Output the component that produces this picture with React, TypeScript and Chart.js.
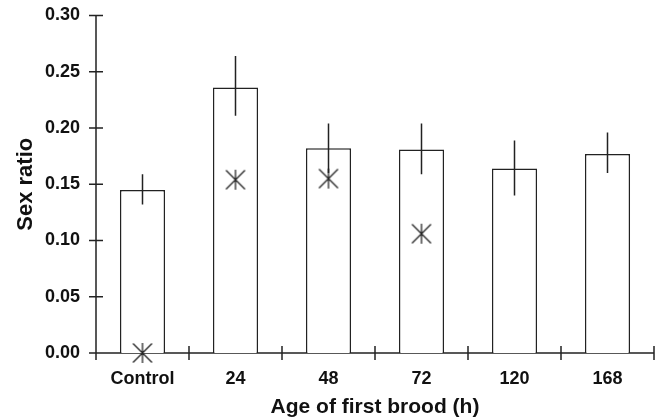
import React, { useEffect, useRef } from "react";
import { Chart, registerables } from "chart.js";

Chart.register(...registerables);

const categories = ["Control", "24", "48", "72", "120", "168"];
const meanRatio = [0.145, 0.236, 0.182, 0.181, 0.164, 0.177];
const errLow = [0.132, 0.211, 0.160, 0.159, 0.140, 0.160];
const errHigh = [0.159, 0.264, 0.204, 0.204, 0.189, 0.196];
const starValues: (number | null)[] = [0, 0.154, 0.155, 0.106, null, null];
const yTicks = [0, 0.05, 0.1, 0.15, 0.2, 0.25, 0.3];

const INK = "#222";
const FONT = "'Liberation Sans', Arial, Helvetica, sans-serif";

function makeStar(): HTMLCanvasElement {
  const c = document.createElement("canvas");
  const s = 22;
  c.width = s;
  c.height = s;
  const g = c.getContext("2d")!;
  g.strokeStyle = INK;
  g.lineWidth = 1.3;
  g.beginPath();
  g.moveTo(s / 2, 1);
  g.lineTo(s / 2, s - 1);
  g.moveTo(1.5, 1.5);
  g.lineTo(s - 1.5, s - 1.5);
  g.moveTo(s - 1.5, 1.5);
  g.lineTo(1.5, s - 1.5);
  g.stroke();
  return c;
}

const axesPlugin = {
  id: "customAxes",
  beforeDatasetsDraw(chart: any) {
    const { ctx, chartArea, scales } = chart;
    const x = scales.x;
    const y = scales.y;
    const t = 7;
    ctx.save();
    ctx.strokeStyle = INK;
    ctx.lineWidth = 1.5;
    ctx.beginPath();
    const y0 = y.getPixelForValue(0);
    const yTop = y.getPixelForValue(yTicks[yTicks.length - 1]);
    ctx.moveTo(chartArea.left, yTop);
    ctx.lineTo(chartArea.left, y0);
    ctx.moveTo(chartArea.left - t, y0);
    ctx.lineTo(chartArea.right, y0);
    yTicks.forEach((v) => {
      const py = y.getPixelForValue(v);
      ctx.moveTo(chartArea.left - t, py);
      ctx.lineTo(chartArea.left + t, py);
    });
    const n = categories.length;
    for (let i = 0; i <= n; i++) {
      let px: number;
      if (i === 0) px = chartArea.left;
      else if (i === n) px = chartArea.right;
      else px = (x.getPixelForValue(i - 1) + x.getPixelForValue(i)) / 2;
      ctx.moveTo(px, y0 - t);
      ctx.lineTo(px, y0 + t);
    }
    ctx.stroke();
    ctx.restore();
  },
  afterDatasetDraw(chart: any, args: any) {
    if (args.index !== 0) return;
    const { ctx, scales } = chart;
    const x = scales.x;
    const y = scales.y;
    ctx.save();
    ctx.strokeStyle = INK;
    ctx.lineWidth = 1.5;
    ctx.beginPath();
    categories.forEach((_, i) => {
      const px = x.getPixelForValue(i);
      ctx.moveTo(px, y.getPixelForValue(errLow[i]));
      ctx.lineTo(px, y.getPixelForValue(errHigh[i]));
    });
    ctx.stroke();
    ctx.restore();
  },
};

export default function App() {
  const ref = useRef<HTMLCanvasElement | null>(null);
  useEffect(() => {
    if (!ref.current) return;
    const star = makeStar();
    const chart = new Chart(ref.current, {
      type: "bar",
      data: {
        labels: categories,
        datasets: [
          {
            type: "bar",
            data: meanRatio,
            backgroundColor: "#ffffff",
            borderColor: INK,
            borderWidth: 1.5,
            barPercentage: 0.485,
            categoryPercentage: 1,
            order: 2,
          } as any,
          {
            type: "line",
            data: starValues,
            showLine: false,
            pointStyle: star,
            pointRadius: 10,
            pointHoverRadius: 10,
            clip: false,
            order: 1,
          } as any,
        ],
      },
      options: {
        responsive: false,
        animation: false,
        events: [],
        layout: { autoPadding: false, padding: { top: 15.5, right: 4, left: 0, bottom: 0 } },
        plugins: { legend: { display: false }, tooltip: { enabled: false } },
        scales: {
          x: {
            grid: { display: false },
            border: { display: false },
            ticks: {
              color: "#111",
              padding: 7,
              font: { family: FONT, size: 18, weight: "bold" },
            },
            title: {
              display: true,
              text: "Age of first brood (h)",
              color: "#111",
              padding: { top: 0, bottom: -1 },
              font: { family: FONT, size: 21, weight: "bold" },
            },
            afterFit(scale: any) {
              scale.height = 66;
              scale.paddingLeft = 0;
              scale.paddingRight = 0;
            },
          },
          y: {
            min: 0,
            max: 0.3,
            grid: { display: false },
            border: { display: false },
            ticks: {
              stepSize: 0.05,
              color: "#111",
              padding: 8,
              font: { family: FONT, size: 18, weight: "bold" },
              callback: (v: any) => Number(v).toFixed(2),
            },
            title: {
              display: true,
              text: "Sex ratio",
              color: "#111",
              padding: { top: 13, bottom: 0 },
              font: { family: FONT, size: 22, weight: "bold" },
            },
            afterFit(scale: any) {
              scale.width = 96;
              scale.paddingTop = 0;
              scale.paddingBottom = 0;
            },
          },
        },
      },
      plugins: [axesPlugin],
    });
    return () => chart.destroy();
  }, []);
  return (
    <div style={{ position: "absolute", left: 0, top: 0, width: 658, height: 419 }}>
      <canvas ref={ref} width={658} height={419} />
    </div>
  );
}
